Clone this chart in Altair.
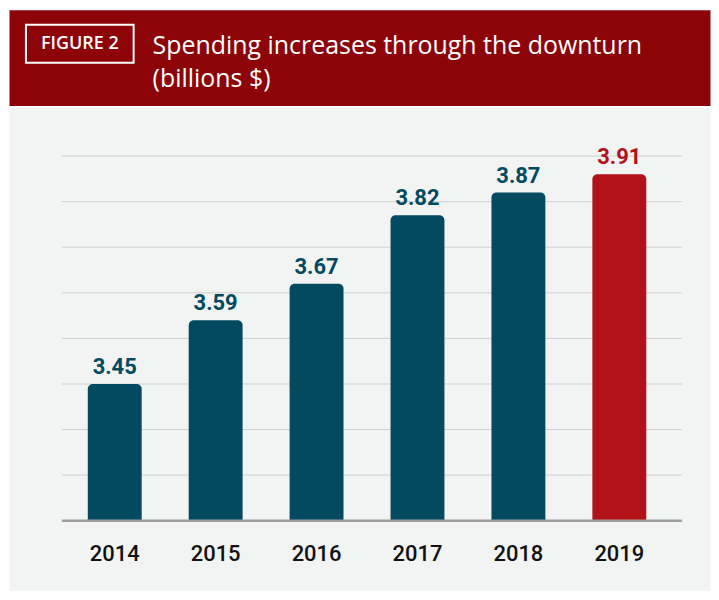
import altair as alt
import pandas as pd

# ---- data ----
years = ["2014", "2015", "2016", "2017", "2018", "2019"]
spending = [3.45, 3.59, 3.67, 3.82, 3.87, 3.91]
highlight = [False, False, False, False, False, True]
grid_values = [3.15, 3.25, 3.35, 3.45, 3.55, 3.65, 3.75, 3.85, 3.95]
baseline_value = [3.15]
figure_label = "FIGURE 2"
title_lines = ["Spending increases through the downturn", "(billions $)"]

BLUE = "#034A61"
RED = "#B01218"
HEADER_RED = "#8C0407"
BG = "#F2F3F3"

df = pd.DataFrame({"year": years, "value": spending, "hl": highlight})
df["base"] = baseline_value[0]
grid_df = pd.DataFrame({"v": grid_values})
base_df = pd.DataFrame({"v": baseline_value})

W = 703
H = 484

xscale = alt.Scale(domain=years, range=[53, 675], paddingInner=0.466,
                   paddingOuter=0.306, align=0.42)
yscale = alt.Scale(domain=[3.15, 3.95], range=[414.3, 48.7], zero=False)

color_scale = alt.Scale(domain=[False, True], range=[BLUE, RED])

grid = alt.Chart(grid_df).mark_rule(color="#CFCFCF", strokeWidth=1).encode(
    y=alt.Y("v:Q", scale=yscale, axis=None),
    x=alt.value(53), x2=alt.value(675),
)

bars = alt.Chart(df).mark_bar(cornerRadiusTopLeft=5, cornerRadiusTopRight=5).encode(
    x=alt.X("year:N", scale=xscale, axis=None, sort=years),
    y=alt.Y("value:Q", scale=yscale, axis=None),
    y2="base:Q",
    color=alt.Color("hl:N", scale=color_scale, legend=None),
)

baseline = alt.Chart(base_df).mark_rule(color="#9E9E9E", strokeWidth=2.5).encode(
    y=alt.Y("v:Q", scale=yscale, axis=None),
    x=alt.value(53), x2=alt.value(675),
)

value_labels = alt.Chart(df).mark_text(
    font="Roboto", fontSize=22, fontWeight="bold", baseline="alphabetic", dy=-10
).encode(
    x=alt.X("year:N", scale=xscale, axis=None, sort=years),
    y=alt.Y("value:Q", scale=yscale, axis=None),
    text=alt.Text("value:Q", format=".2f"),
    color=alt.Color("hl:N", scale=color_scale, legend=None),
)

year_labels = alt.Chart(df).mark_text(
    font="Roboto", fontSize=22, fontWeight=500, baseline="alphabetic", dy=40,
    color="#111111"
).encode(
    x=alt.X("year:N", scale=xscale, axis=None, sort=years),
    y=alt.Y("base:Q", scale=yscale, axis=None),
    text="year:N",
)

main = alt.layer(grid, bars, baseline, value_labels, year_labels).properties(
    width=W, height=H,
    view=alt.ViewBackground(fill=BG, stroke="transparent"),
)

one = pd.DataFrame({"a": [0]})
box = alt.Chart(one).mark_rect(
    fill="transparent", stroke="white", strokeWidth=2
).encode(x=alt.value(17), x2=alt.value(125), y=alt.value(15), y2=alt.value(53))

fig_text = alt.Chart(pd.DataFrame({"t": [figure_label]})).mark_text(
    font="Open Sans", fontSize=18, fontWeight=600, color="white",
    align="center", baseline="middle"
).encode(x=alt.value(71), y=alt.value(34.5), text="t:N")

title_df = pd.DataFrame({"t": title_lines, "i": [0, 1]})
title_text = alt.Chart(title_df).mark_text(
    font="Open Sans", fontSize=25, fontWeight=400, color="white",
    align="left", baseline="alphabetic"
).encode(
    x=alt.value(144),
    y=alt.Y("i:Q", scale=alt.Scale(domain=[0, 1], range=[44, 77]), axis=None),
    text="t:N",
)

header = alt.layer(box, fig_text, title_text).properties(
    width=W, height=96,
    view=alt.ViewBackground(fill=HEADER_RED, stroke="transparent"),
)

chart = alt.vconcat(header, main, spacing=0).properties(
    padding=0, background="white"
).configure_view(stroke="transparent")

chart.save("out.html", embed_options={"renderer": "svg", "actions": False})
